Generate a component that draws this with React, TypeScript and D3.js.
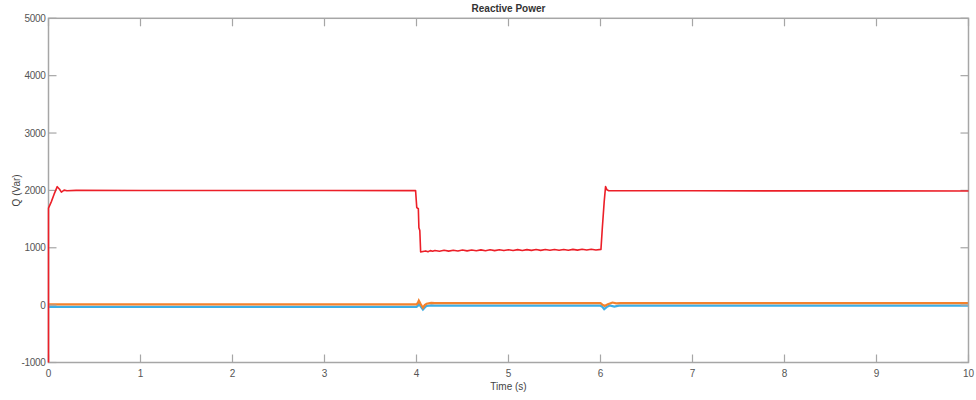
import React from "react";
import * as d3 from "d3";

const title = "Reactive Power";
const xLabel = "Time (s)";
const yLabel = "Q (Var)";
const xTicks = [0, 1, 2, 3, 4, 5, 6, 7, 8, 9, 10];
const yTicks = [-1000, 0, 1000, 2000, 3000, 4000, 5000];

// Red: reactive power (main)
const redSeries: [number, number][] = [
  [0, -1000], [0, 1690], [0.03, 1800], [0.06, 1930], [0.095, 2065], [0.12, 2020],
  [0.14, 1970], [0.17, 2005], [0.2, 1995], [0.3, 2000], [1, 1998], [2, 1998],
  [3, 1997], [3.99, 1996], [4.003, 1700], [4.02, 1680], [4.026, 1350],
  [4.036, 1300], [4.045, 925], [4.07, 935], [4.1, 945], [4.125, 932], [4.15, 950],
  [4.175, 938], [4.2, 952], [4.25, 940], [4.3, 956], [4.35, 942], [4.4, 958],
  [4.45, 944], [4.5, 960], [4.55, 946], [4.6, 962], [4.65, 948], [4.7, 963],
  [4.75, 949], [4.8, 964], [4.85, 950], [4.9, 965], [4.95, 951], [5.0, 966],
  [5.05, 952], [5.1, 967], [5.15, 953], [5.2, 968], [5.25, 954], [5.3, 969],
  [5.35, 955], [5.4, 970], [5.45, 956], [5.5, 970], [5.55, 957], [5.6, 971],
  [5.65, 958], [5.7, 972], [5.75, 959], [5.8, 973], [5.85, 960], [5.9, 974],
  [5.95, 961], [6.005, 972], [6.02, 1350], [6.04, 1800], [6.055, 2065],
  [6.07, 2010], [6.09, 1995], [7, 1993], [8, 1992], [9, 1991], [10, 1990],
];

// Orange: reactive power (phase 2)
const orangeSeries: [number, number][] = [
  [0, 12], [1, 12], [2, 12], [3, 12], [4.0, 12], [4.015, 40], [4.025, 80],
  [4.045, 20], [4.07, -45], [4.09, 0], [4.11, 25], [4.16, 40], [4.2, 35],
  [5, 35], [6.0, 35], [6.02, 10], [6.045, -15], [6.08, 15], [6.13, 45],
  [6.17, 30], [6.22, 35], [7, 35], [8, 35], [9, 35], [10, 35],
];

// Blue: reactive power (phase 3)
const blueSeries: [number, number][] = [
  [0, -30], [1, -30], [2, -30], [3, -30], [4.0, -30], [4.015, -10], [4.025, 20],
  [4.045, -20], [4.07, -75], [4.09, -40], [4.11, -15], [4.16, -5], [4.2, -10],
  [5, -10], [6.0, -10], [6.02, -30], [6.04, -70], [6.07, -30], [6.1, -5],
  [6.15, -25], [6.2, -10], [7, -10], [8, -10], [9, -10], [10, -10],
];

const W = 976;
const H = 400;
const left = 48.5;
const right = 968.5;
const top = 18.3;
const bottom = 362.5;
const axisColor = "#a6a6a6";
const textColor = "#555555";
const font = "'Liberation Sans', Arial, sans-serif";

export default function App() {
  const x = d3.scaleLinear().domain([0, 10]).range([left, right]);
  const y = d3.scaleLinear().domain([-1000, 5000]).range([bottom, top]);
  const line = d3
    .line<[number, number]>()
    .x((d) => x(d[0]))
    .y((d) => y(d[1]));
  const tl = 8;

  return (
    <svg
      width={W}
      height={H}
      style={{ position: "absolute", left: 0, top: 0, background: "#fff" }}
    >
      <rect x={0} y={0} width={W} height={H} fill="#fff" />
      <defs>
        <clipPath id="plot">
          <rect x={left} y={top} width={right - left} height={bottom - top} />
        </clipPath>
      </defs>
      <g clipPath="url(#plot)">
        <path d={line(blueSeries) || ""} fill="none" stroke="#3daee6" strokeWidth={2.2} />
        <path d={line(orangeSeries) || ""} fill="none" stroke="#f4822c" strokeWidth={2.2} />
      </g>
      <rect
        x={left}
        y={top}
        width={right - left}
        height={bottom - top}
        fill="none"
        stroke={axisColor}
        strokeWidth={1.5}
      />
      {xTicks.map((t) => (
        <g key={"x" + t}>
          <line x1={x(t)} x2={x(t)} y1={bottom} y2={bottom - tl} stroke={axisColor} strokeWidth={1.2} />
          <line x1={x(t)} x2={x(t)} y1={top} y2={top + tl} stroke={axisColor} strokeWidth={1.2} />
          <text
            x={x(t)}
            y={bottom + 14}
            textAnchor="middle"
            fontSize={10}
            fontFamily={font}
            fill={textColor}
          >
            {t}
          </text>
        </g>
      ))}
      {yTicks.map((t) => (
        <g key={"y" + t}>
          <line x1={left} x2={left + tl} y1={y(t)} y2={y(t)} stroke={axisColor} strokeWidth={1.2} />
          <line x1={right} x2={right - tl} y1={y(t)} y2={y(t)} stroke={axisColor} strokeWidth={1.2} />
          <text
            x={left - 3}
            y={y(t)}
            dy="0.35em"
            textAnchor="end"
            fontSize={10}
            fontFamily={font}
            fill={textColor}
            letterSpacing={-0.3}
          >
            {t}
          </text>
        </g>
      ))}
      <path d={line(redSeries) || ""} fill="none" stroke="#ec1f28" strokeWidth={1.6} strokeLinejoin="round" />
      <text
        x={(left + right) / 2}
        y={12}
        textAnchor="middle"
        fontSize={10}
        fontWeight="bold"
        fontFamily={font}
        fill="#333"
      >
        {title}
      </text>
      <text
        x={(left + right) / 2}
        y={390}
        textAnchor="middle"
        fontSize={10}
        fontFamily={font}
        fill="#444"
      >
        {xLabel}
      </text>
      <text
        transform={`translate(20, ${y(2000)}) rotate(-90)`}
        textAnchor="middle"
        fontSize={10}
        fontFamily={font}
        fill="#444"
      >
        {yLabel}
      </text>
    </svg>
  );
}
